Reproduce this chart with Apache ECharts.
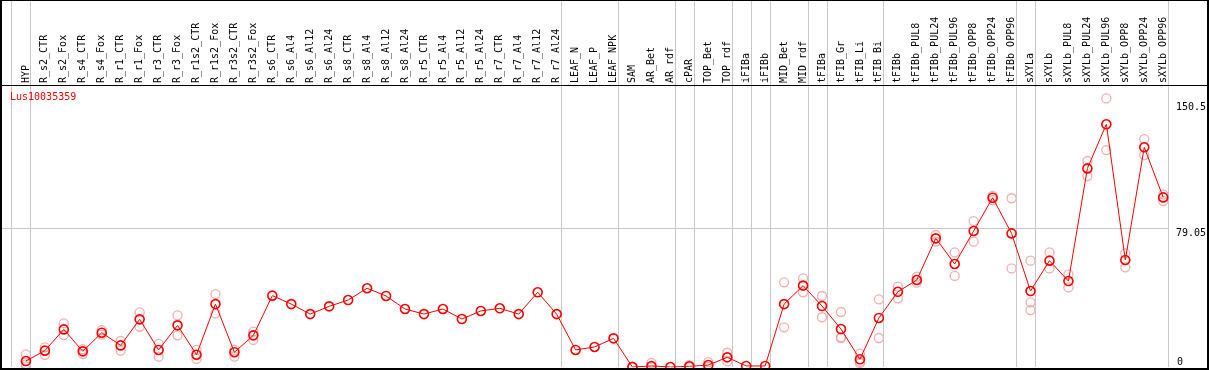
<!DOCTYPE html>
<html>
<head>
<meta charset="utf-8">
<script src="https://cdn.jsdelivr.net/npm/echarts@6/dist/echarts.min.js"></script>
<style>html,body{margin:0;padding:0;background:#fff;}#c{width:1209px;height:370px;}</style>
</head>
<body>
<div id="c"></div>
<script>
const categories = ["HYP","R_s2_CTR","R_s2_Fox","R_s4_CTR","R_s4_Fox","R_r1_CTR","R_r1_Fox","R_r3_CTR","R_r3_Fox","R_r1s2_CTR","R_r1s2_Fox","R_r3s2_CTR","R_r3s2_Fox","R_s6_CTR","R_s6_Al4","R_s6_Al12","R_s6_Al24","R_s8_CTR","R_s8_Al4","R_s8_Al12","R_s8_Al24","R_r5_CTR","R_r5_Al4","R_r5_Al12","R_r5_Al24","R_r7_CTR","R_r7_Al4","R_r7_Al12","R_r7_Al24","LEAF_N","LEAF_P","LEAF_NPK","SAM","AR_Bet","AR_rdf","cPAR","TOP_Bet","TOP_rdf","iFIBa","iFIBb","MID_Bet","MID_rdf","tFIBa","tFIB_Gr","tFIB_Li","tFIB_Bi","tFIBb","tFIBb_PUL8","tFIBb_PUL24","tFIBb_PUL96","tFIBb_OPP8","tFIBb_OPP24","tFIBb_OPP96","sXYLa","sXYLb","sXYLb_PUL8","sXYLb_PUL24","sXYLb_PUL96","sXYLb_OPP8","sXYLb_OPP24","sXYLb_OPP96"];

const means = [3.4,9.3,21.4,8.9,19.5,12.3,27.1,9.7,23.7,7.0,35.8,8.4,18.0,
  40.6,35.8,30.1,34.5,38.1,44.8,40.4,33.0,30.1,33.0,27.3,31.9,33.4,30.1,42.5,30.1,
  9.7,11.4,16.3,
  0.0,0.6,0.0,0.4,1.1,5.5,0.6,0.6,
  35.8,46.3,34.7,21.6,4.4,27.9,
  42.8,49.5,73.2,58.6,77.4,96.3,76.0,
  43.2,60.5,48.9,113.0,138.1,60.9,125.0,96.5];

const rep1 = [7.2,11.2,24.8,10.1,21.0,14.8,31.1,13.1,29.4,9.7,41.5,9.7,20.1,
  null,null,null,null,null,null,null,null,null,null,null,null,null,null,null,null,null,null,null,
  0.3,2.4,null,1.1,2.8,8.1,null,null,
  48.2,50.4,40.4,31.3,7.6,38.5,
  45.7,51.4,75.1,65.2,83.0,97.3,96.0,
  60.5,65.2,52.7,117.2,152.8,64.7,129.7,98.2];

const rep2 = [1.5,6.9,18.2,7.4,18.4,9.3,22.9,5.9,18.0,4.6,30.5,5.9,15.4,
  null,null,null,null,null,null,null,null,null,null,null,null,null,null,null,null,null,null,null,
  0.0,0.0,null,0.0,0.0,3.2,null,null,
  22.6,42.5,28.3,16.9,3.0,16.5,
  39.1,48.0,71.3,51.8,71.3,95.0,56.1,
  36.8,56.1,45.3,108.6,123.4,56.7,120.6,94.4];

const rep3 = [0.3,null,null,null,null,null,null,null,null,null,null,null,null,
  null,null,null,null,null,null,null,null,null,null,null,null,null,null,null,null,null,null,null,
  null,0.0,null,null,null,null,null,null,
  null,null,null,16.5,2.2,null,
  null,null,null,null,null,null,null,
  32.4,null,null,null,null,null,null,null];

const groupSizes = [1,28,3,3,1,2,1,1,2,1,3,7,1,7];
const yTickLabels = [79.05, 150.5];
const yZeroLabel = [0];
const refLine = 79.05;
const geneName = "Lus10035359";

const MONO = "DejaVu Sans Mono";

// group separators at slot edges
const sepLines = [];
let acc = 0;
sepLines.push({xAxis: acc - 0.75});
groupSizes.forEach(n => { acc += n; sepLines.push({xAxis: acc - 0.75}); });
sepLines.push({yAxis: refLine});

const toPts = arr => arr.map((v, i) => [i, v]).filter(p => p[1] !== null);
const idx = categories.map((c, i) => i);

const chart = echarts.init(document.getElementById('c'), null, {renderer: 'canvas'});
const yBase = {
  type: 'value', min: 0, max: 208.8, position: 'right',
  axisLine: {show: false}, axisTick: {show: false}, splitLine: {show: false}
};
const repStyle = {color: 'rgba(0,0,0,0)', borderColor: '#f09a9a', borderWidth: 1.3};
chart.setOption({
  animation: false,
  backgroundColor: '#fff',
  title: {
    text: geneName, left: 10, top: 92, padding: 0,
    textStyle: {color: '#ff0000', fontSize: 10, fontWeight: 'normal', fontFamily: MONO}
  },
  grid: {left: 1, right: 38, top: 0, bottom: 3, containLabel: false},
  xAxis: {
    type: 'value', min: -1.314, max: 60.3, position: 'top', offset: -85,
    axisLine: {show: false}, axisTick: {show: false}, splitLine: {show: false},
    axisLabel: {
      customValues: idx, rotate: 90, margin: 2,
      formatter: v => categories[Math.round(v)] || '',
      fontFamily: MONO, fontSize: 10, color: '#000'
    }
  },
  yAxis: [
    Object.assign({}, yBase, {axisLabel: {customValues: yTickLabels, formatter: v => String(v), verticalAlign: 'top', margin: 7, fontFamily: MONO, fontSize: 10, color: '#000'}}),
    Object.assign({}, yBase, {axisLabel: {customValues: yZeroLabel, formatter: v => String(v), verticalAlign: 'bottom', margin: 8, fontFamily: MONO, fontSize: 10, color: '#000'}})
  ],
  graphic: [
    {type: 'rect', shape: {x: 1, y: 0, width: 1207, height: 369}, style: {fill: 'none', stroke: '#000', lineWidth: 2}, z: 100, silent: true},
    {type: 'line', shape: {x1: 0, y1: 85.5, x2: 1209, y2: 85.5}, style: {stroke: '#000', lineWidth: 1}, z: 100, silent: true}
  ],
  series: [
    {
      type: 'scatter', data: toPts(rep1), z: 1,
      symbol: 'circle', symbolSize: 9, itemStyle: repStyle,
      markLine: {
        silent: true, symbol: 'none', animation: false,
        label: {show: false},
        lineStyle: {color: '#c8c8c8', width: 1, type: 'solid'},
        emphasis: {disabled: true},
        data: sepLines
      }
    },
    {type: 'scatter', data: toPts(rep2), z: 2, symbol: 'circle', symbolSize: 9, itemStyle: repStyle},
    {type: 'scatter', data: toPts(rep3), z: 2, symbol: 'circle', symbolSize: 9, itemStyle: repStyle},
    {
      type: 'line', data: means.map((v, i) => [i, v]), z: 5,
      symbol: 'circle', symbolSize: 9, showSymbol: true,
      lineStyle: {color: '#ff0000', width: 1},
      itemStyle: {color: 'rgba(0,0,0,0)', borderColor: '#ff0000', borderWidth: 1.6}
    }
  ]
});
</script>
</body>
</html>
